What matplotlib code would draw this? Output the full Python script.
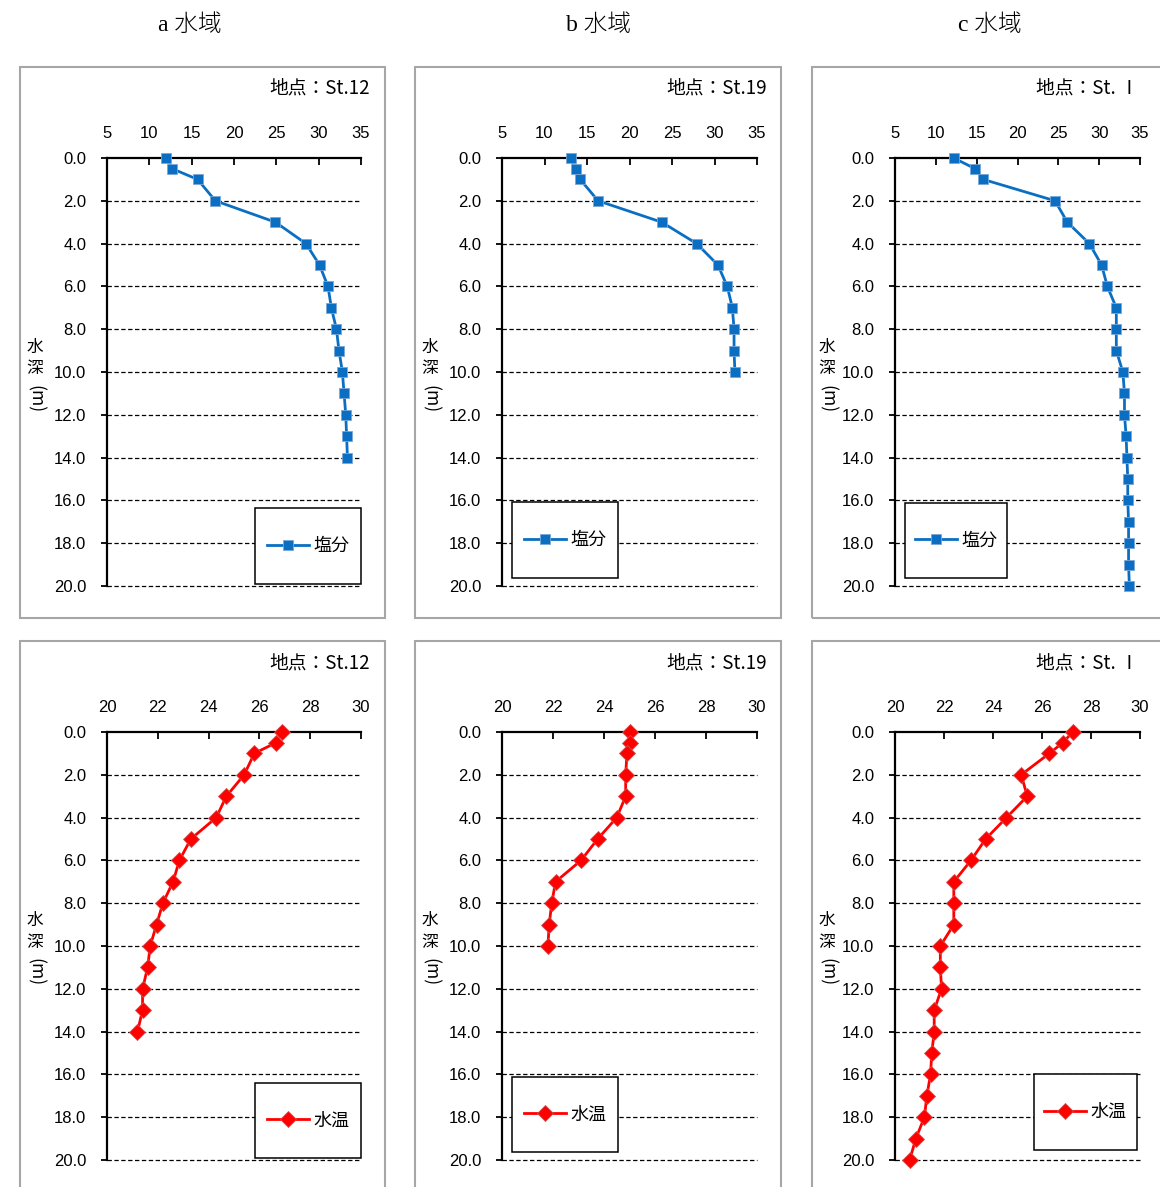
"""Plot vertical salinity and water temperature profiles for three areas."""

from __future__ import annotations

import matplotlib

matplotlib.use("Agg")

import matplotlib.pyplot as plt
from matplotlib.patches import Rectangle

plt.rcParams["font.family"] = ["Liberation Sans", "Noto Sans CJK JP"]

FIG_W = 1160
FIG_H = 1187

AREA_TITLES = ["a 水域", "b 水域", "c 水域"]
STATIONS = ["地点：St.12", "地点：St.19", "地点：St. Ⅰ"]
SALINITY_LABEL = "塩分"
TEMP_LABEL = "水温"

DEPTH_A = [0.0, 0.5, 1.0, 2.0, 3.0, 4.0, 5.0, 6.0, 7.0, 8.0, 9.0,
           10.0, 11.0, 12.0, 13.0, 14.0]
DEPTH_B = [0.0, 0.5, 1.0, 2.0, 3.0, 4.0, 5.0, 6.0, 7.0, 8.0, 9.0, 10.0]
DEPTH_C = [0.0, 0.5, 1.0, 2.0, 3.0, 4.0, 5.0, 6.0, 7.0, 8.0, 9.0,
           10.0, 11.0, 12.0, 13.0, 14.0, 15.0, 16.0, 17.0, 18.0, 19.0, 20.0]

SALINITY_A = [12.0, 12.7, 15.7, 17.8, 24.9, 28.5, 30.1, 31.1, 31.5, 32.1,
              32.4, 32.8, 33.0, 33.2, 33.3, 33.4]
SALINITY_B = [13.1, 13.7, 14.2, 16.3, 23.8, 27.9, 30.4, 31.5, 32.1, 32.3,
              32.3, 32.4]
SALINITY_C = [12.2, 14.8, 15.8, 24.6, 26.1, 28.8, 30.3, 31.0, 32.1, 32.1,
              32.1, 32.9, 33.1, 33.1, 33.3, 33.4, 33.5, 33.5, 33.6, 33.6,
              33.6, 33.7]

TEMP_A = [26.9, 26.65, 25.8, 25.4, 24.7, 24.3, 23.3, 22.85, 22.6, 22.2,
          21.95, 21.7, 21.6, 21.4, 21.4, 21.2]
TEMP_B = [25.0, 25.0, 24.9, 24.85, 24.85, 24.5, 23.75, 23.1, 22.1, 21.95,
          21.85, 21.8]
TEMP_C = [27.25, 26.85, 26.3, 25.15, 25.4, 24.55, 23.7, 23.1, 22.4, 22.4,
          22.4, 21.85, 21.85, 21.9, 21.6, 21.6, 21.5, 21.45, 21.3, 21.2,
          20.85, 20.6]

DEPTH_TICKS = [0.0, 2.0, 4.0, 6.0, 8.0, 10.0, 12.0, 14.0, 16.0, 18.0, 20.0]
SALINITY_TICKS = [5, 10, 15, 20, 25, 30, 35]
TEMP_TICKS = [20, 22, 24, 26, 28, 30]

# layout in pixels of the reference image
COLS_X = [(107, 361), (502, 757), (895, 1140)]
ROWS_Y = [(158, 586), (732, 1160)]
FRAMES_X = [(20, 385), (415, 781), (812, 1180)]
FRAMES_Y = [(67, 618), (641, 1200)]
STATION_X = [370, 767, 1139]
STATION_Y = [88, 663]
YLABEL_X = [35, 430, 827]
YLABEL_Y = [(347, 369, 399), (920, 943, 972)]
TITLE_X = [190, 598, 990]
LEGEND_BOXES = [
    [(255, 508, 361, 584), (512, 502, 618, 578), (905, 503, 1007, 578)],
    [(255, 1083, 361, 1158), (512, 1077, 618, 1152), (1034, 1074, 1137, 1150)],
]

BLUE = "#0a6fc2"
RED = "#ff0000"
CJK = ["Noto Sans CJK JP", "DejaVu Sans"]


def fx(px: float) -> float:
    return px / FIG_W


def fy(py: float) -> float:
    return 1.0 - py / FIG_H


def draw_panel(fig, row, col, values, depths, ticks, color, marker, label):
    x0, x1 = COLS_X[col]
    y0, y1 = ROWS_Y[row]
    ax = fig.add_axes([fx(x0), fy(y1), fx(x1) - fx(x0), fy(y0) - fy(y1)])
    ax.set_facecolor("none")

    for depth in DEPTH_TICKS[1:]:
        ax.axhline(depth, color="black", linewidth=0.9,
                   linestyle=(0, (3.5, 2.0)), zorder=1, clip_on=False)

    square = marker == "s"
    ax.plot(values, depths, color=color, linewidth=2.0, marker=marker,
            markersize=7.5 if square else 8.5,
            markerfacecolor=color,
            markeredgecolor="#7aa6d6" if square else "#d05050",
            markeredgewidth=0.6, label=label, zorder=3, clip_on=False)

    ax.set_xlim(ticks[0], ticks[-1])
    ax.set_ylim(20.0, 0.0)
    ax.set_xticks(ticks)
    ax.set_yticks(DEPTH_TICKS)
    ax.set_yticklabels([f"{d:.1f}" for d in DEPTH_TICKS])
    ax.xaxis.tick_top()
    ax.tick_params(axis="x", direction="in", length=5, width=1.3,
                   pad=12, labelsize=12)
    ax.tick_params(axis="y", direction="out", length=4, width=1.3,
                   pad=11, labelsize=12)
    for side in ("right", "bottom"):
        ax.spines[side].set_visible(False)
    for side in ("left", "top"):
        ax.spines[side].set_linewidth(1.6)

    # legend box
    bx0, by0, bx1, by1 = LEGEND_BOXES[row][col]
    box = Rectangle((fx(bx0), fy(by1)), fx(bx1) - fx(bx0), fy(by0) - fy(by1),
                    transform=fig.transFigure, facecolor="white",
                    edgecolor="black", linewidth=1.1, zorder=4)
    fig.patches.append(box)
    leg = fig.legend(handles=ax.get_lines()[-1:], loc="center",
                     bbox_to_anchor=(fx((bx0 + bx1) / 2), fy((by0 + by1) / 2)),
                     frameon=False, prop={"family": CJK, "size": 13},
                     handlelength=2.3, handletextpad=0.25, borderpad=0.0)
    leg.set_zorder(5)

    fig.text(fx(STATION_X[col]), fy(STATION_Y[row]), STATIONS[col],
             ha="right", va="center", fontsize=13.5, family=CJK)

    lx = fx(YLABEL_X[col])
    y_sui, y_shin, y_m = YLABEL_Y[row]
    fig.text(lx, fy(y_sui), "水", ha="center", va="center", fontsize=12,
             family=CJK)
    fig.text(lx, fy(y_shin), "深", ha="center", va="center", fontsize=12,
             family=CJK)
    fig.text(lx, fy(y_m), "(m)", ha="center", va="center", fontsize=12.5,
             rotation=270, family=CJK)
    return ax


def main() -> None:
    fig = plt.figure(figsize=(FIG_W / 100, FIG_H / 100), dpi=100)

    for row in range(2):
        for col in range(3):
            fx0, fx1 = FRAMES_X[col]
            fy0, fy1 = FRAMES_Y[row]
            frame = Rectangle((fx(fx0), fy(fy1)), fx(fx1) - fx(fx0),
                              fy(fy0) - fy(fy1), transform=fig.transFigure,
                              facecolor="none", edgecolor="#a6a6a6",
                              linewidth=1.5, zorder=-1)
            fig.patches.append(frame)

    for col, title in enumerate(AREA_TITLES):
        fig.text(fx(TITLE_X[col]), fy(25), title, ha="center", va="center",
                 fontsize=17, family=["Liberation Serif", "Noto Sans CJK JP"],
                 fontweight="light")

    salinity = [SALINITY_A, SALINITY_B, SALINITY_C]
    temps = [TEMP_A, TEMP_B, TEMP_C]
    depths = [DEPTH_A, DEPTH_B, DEPTH_C]
    for col in range(3):
        draw_panel(fig, 0, col, salinity[col], depths[col], SALINITY_TICKS,
                   BLUE, "s", SALINITY_LABEL)
        draw_panel(fig, 1, col, temps[col], depths[col], TEMP_TICKS,
                   RED, "D", TEMP_LABEL)

    fig.savefig("out.png", dpi=100)
    plt.close(fig)


if __name__ == "__main__":
    main()
